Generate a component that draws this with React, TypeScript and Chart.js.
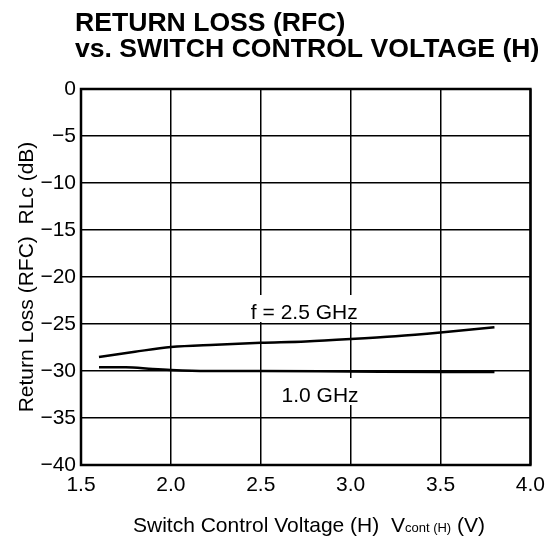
import React, { useEffect, useRef } from 'react';
import { Chart, registerables } from 'chart.js';

Chart.register(...registerables);

// ---- data ----
const voltage25 = [1.6, 1.8, 2.0, 2.25, 2.5, 2.75, 3.0, 3.25, 3.5, 3.8];
const rl25 = [-28.5, -27.95, -27.45, -27.2, -27.0, -26.85, -26.6, -26.3, -25.9, -25.35];
const voltage10 = [1.6, 1.75, 1.9, 2.0, 2.2, 2.5, 3.0, 3.5, 3.8];
const rl10 = [-29.6, -29.6, -29.8, -29.9, -30.0, -30.0, -30.05, -30.1, -30.1];
const xTicks = [1.5, 2.0, 2.5, 3.0, 3.5, 4.0];
const yTicks = [0, -5, -10, -15, -20, -25, -30, -35, -40];
const titleLines = ['RETURN LOSS (RFC)', 'vs. SWITCH CONTROL VOLTAGE (H)'];
const seriesLabels = ['f = 2.5 GHz', '1.0 GHz'];
const labelAnchorsX = [2.742, 2.83];
const labelAnchorsY = [-24.47, -33.3];

const FONT = '"Liberation Sans", Arial, Helvetica, sans-serif';

const decor = {
  id: 'decor',
  beforeDatasetsDraw(chart: any) {
    const { ctx, scales } = chart;
    const x = scales.x, y = scales.y;
    ctx.save();
    ctx.font = `21px ${FONT}`;
    ctx.textAlign = 'center';
    ctx.textBaseline = 'alphabetic';
    seriesLabels.forEach((t, i) => {
      const px = x.getPixelForValue(labelAnchorsX[i]);
      const py = y.getPixelForValue(labelAnchorsY[i]);
      const w = ctx.measureText(t).width;
      ctx.fillStyle = '#fff';
      ctx.fillRect(px - w / 2 - 6, py - 24, w + 12, 27);
      ctx.fillStyle = '#000';
      ctx.fillText(t, px, py);
    });
    ctx.restore();
  },
  afterDraw(chart: any) {
    const { ctx, chartArea } = chart;
    ctx.save();
    // frame
    ctx.strokeStyle = '#000';
    ctx.lineWidth = 2.5;
    ctx.strokeRect(chartArea.left, chartArea.top, chartArea.right - chartArea.left, chartArea.bottom - chartArea.top);

    ctx.fillStyle = '#000';
    // title
    ctx.font = `bold 26.6px ${FONT}`;
    ctx.textAlign = 'left';
    ctx.textBaseline = 'alphabetic';
    ctx.fillText(titleLines[0], 75, 31);
    ctx.fillText(titleLines[1], 75, 57);

    // x axis title with subscript
    const mainFont = `21px ${FONT}`;
    const subFont = `13px ${FONT}`;
    const parts = [
      { t: 'Switch Control Voltage (H)  V', f: mainFont },
      { t: 'cont (H)', f: subFont },
      { t: ' (V)', f: mainFont },
    ];
    let total = 0;
    parts.forEach(p => { ctx.font = p.f; total += ctx.measureText(p.t).width; });
    let cx = 309 - total / 2;
    parts.forEach(p => {
      ctx.font = p.f;
      ctx.fillText(p.t, cx, 532);
      cx += ctx.measureText(p.t).width;
    });

    // y axis title
    ctx.translate(33, 277);
    ctx.rotate(-Math.PI / 2);
    ctx.font = mainFont;
    ctx.textAlign = 'center';
    ctx.fillText('Return Loss (RFC)  RLc (dB)', 0, 0);
    ctx.restore();
  },
};

export default function App() {
  const ref = useRef<HTMLCanvasElement | null>(null);
  useEffect(() => {
    if (!ref.current) return;
    const chart = new Chart(ref.current, {
      type: 'line',
      data: {
        datasets: [
          {
            label: seriesLabels[0],
            data: voltage25.map((v, i) => ({ x: v, y: rl25[i] })),
            borderColor: '#000',
            borderWidth: 2.5,
            pointRadius: 0,
            cubicInterpolationMode: 'monotone',
          },
          {
            label: seriesLabels[1],
            data: voltage10.map((v, i) => ({ x: v, y: rl10[i] })),
            borderColor: '#000',
            borderWidth: 2.5,
            pointRadius: 0,
            cubicInterpolationMode: 'monotone',
          },
        ],
      },
      options: {
        animation: false,
        responsive: false,
        maintainAspectRatio: false,
        layout: { padding: { top: 89, right: 19, left: 0, bottom: 0 } },
        plugins: { legend: { display: false }, tooltip: { enabled: false }, title: { display: false } },
        scales: {
          x: {
            type: 'linear',
            min: 1.5,
            max: 4.0,
            afterBuildTicks: (s: any) => { s.ticks = xTicks.map(v => ({ value: v })); },
            afterFit: (s: any) => { s.height = 80; },
            ticks: {
              callback: (v: any) => Number(v).toFixed(1),
              color: '#000',
              font: { family: FONT, size: 21 },
              padding: 8,
              maxRotation: 0,
            },
            grid: { color: '#000', lineWidth: 1.5, drawTicks: false },
            border: { display: false },
          },
          y: {
            type: 'linear',
            min: -40,
            max: 0,
            afterBuildTicks: (s: any) => { s.ticks = yTicks.map(v => ({ value: v })); },
            afterFit: (s: any) => { s.width = 81; },
            ticks: {
              callback: (v: any) => String(v).replace('-', '\u2212'),
              color: '#000',
              font: { family: FONT, size: 21 },
              padding: 5,
            },
            grid: { color: '#000', lineWidth: 1.5, drawTicks: false },
            border: { display: false },
          },
        },
      },
      plugins: [decor],
    } as any);
    return () => chart.destroy();
  }, []);
  return (
    <div style={{ position: 'absolute', left: 0, top: 0, width: 553, height: 545, background: '#fff' }}>
      <canvas ref={ref} width={553} height={545} style={{ display: 'block' }} />
    </div>
  );
}
